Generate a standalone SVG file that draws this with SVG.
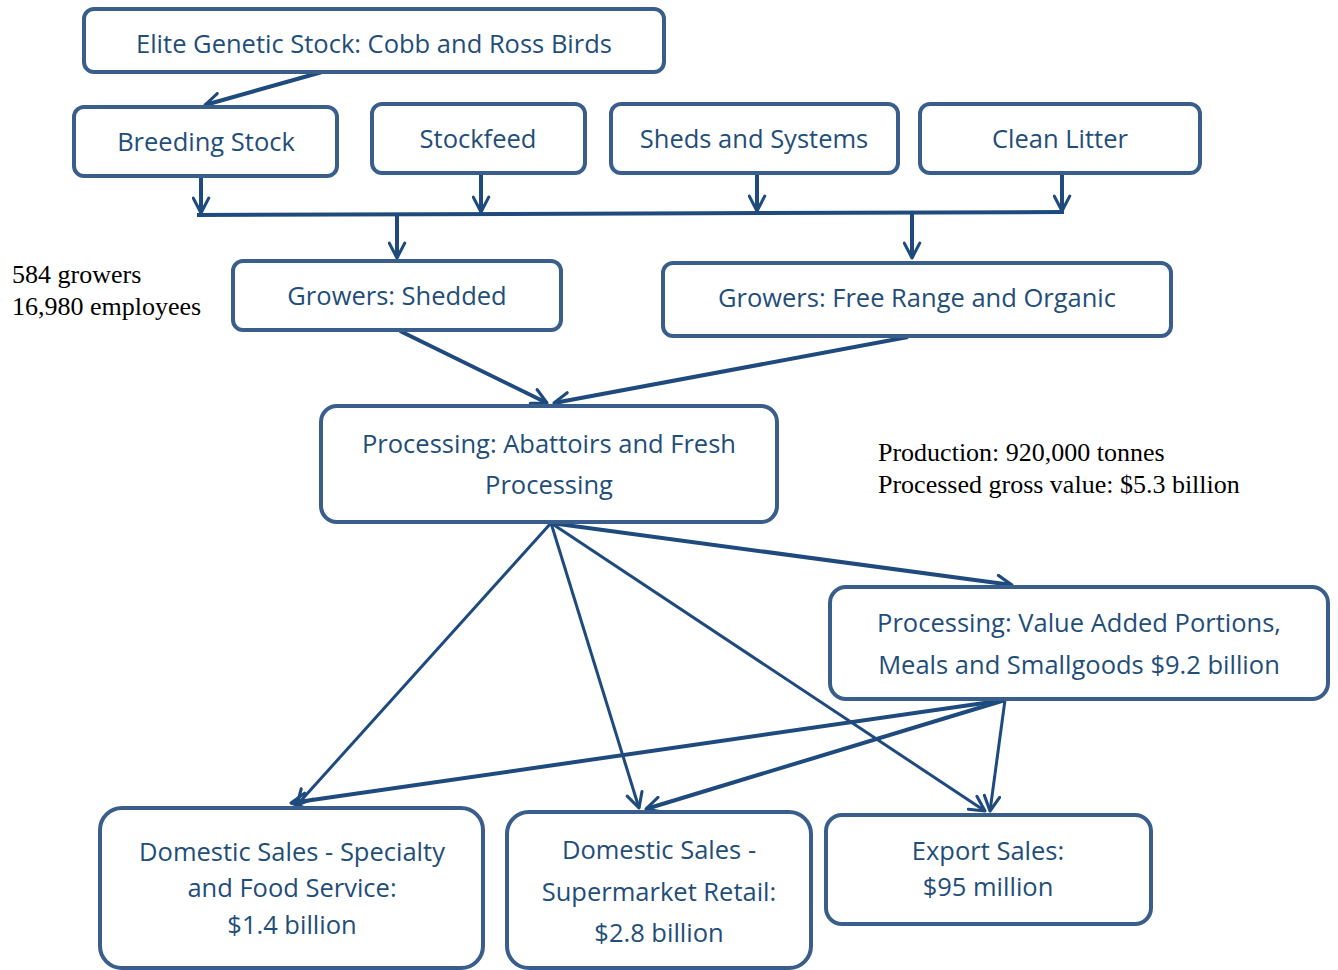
<svg xmlns="http://www.w3.org/2000/svg" width="1338" height="970" viewBox="0 0 1338 970">
<defs>
<style>
.box{fill:#fff;stroke:#3a5e8c;stroke-width:4}
.t{font-family:"Open Sans","Noto Sans",sans-serif;font-size:25.5px;fill:#1f4e79;text-anchor:middle}
.n{font-family:"Liberation Serif","Times New Roman",serif;font-size:26px;fill:#000}
.c{stroke:#1f4a7d;stroke-width:4;fill:none}
.c3{stroke:#1f4a7d;stroke-width:3;fill:none}
</style>
<marker id="ah" viewBox="0 0 16 16" refX="14" refY="8" markerWidth="19" markerHeight="19" markerUnits="userSpaceOnUse" orient="auto">
<path d="M1.5,1.5 L14,8 L1.5,14.5" fill="none" stroke="#1f4a7d" stroke-width="2.6" stroke-linecap="round" stroke-linejoin="round"/>
</marker>
</defs>
<rect width="1338" height="970" fill="#fff"/>
<g id="connectors">
<line class="c" x1="322" y1="72" x2="205" y2="105" marker-end="url(#ah)"/>
<line class="c" x1="201" y1="177" x2="201" y2="213" marker-end="url(#ah)"/>
<line class="c" x1="481" y1="174" x2="481" y2="212" marker-end="url(#ah)"/>
<line class="c" x1="757" y1="174" x2="757" y2="211" marker-end="url(#ah)"/>
<line class="c" x1="1062" y1="174" x2="1062" y2="211" marker-end="url(#ah)"/>
<line class="c" x1="197" y1="215" x2="1064" y2="212"/>
<line class="c" x1="397" y1="214" x2="397" y2="258" marker-end="url(#ah)"/>
<line class="c" x1="912" y1="213" x2="912" y2="258" marker-end="url(#ah)"/>
<line class="c" x1="400" y1="331" x2="547" y2="403" marker-end="url(#ah)"/>
<line class="c" x1="908" y1="337" x2="554" y2="403" marker-end="url(#ah)"/>
<line class="c" x1="551" y1="523" x2="1012" y2="585" marker-end="url(#ah)"/>
<line class="c3" x1="551" y1="523" x2="297" y2="805" marker-end="url(#ah)"/>
<line class="c3" x1="551" y1="523" x2="639" y2="808" marker-end="url(#ah)"/>
<line class="c3" x1="551" y1="523" x2="985" y2="811" marker-end="url(#ah)"/>
<line class="c" x1="1005" y1="700" x2="291" y2="803" marker-end="url(#ah)"/>
<line class="c" x1="1005" y1="700" x2="646" y2="809" marker-end="url(#ah)"/>
<line class="c3" x1="1005" y1="700" x2="990" y2="811" marker-end="url(#ah)"/>
</g>
<g id="elite"><rect class="box" x="84" y="9" width="580" height="63" rx="10"/><text class="t" x="374" y="53">Elite Genetic Stock: Cobb and Ross Birds</text></g>
<g id="breeding"><rect class="box" x="74" y="107" width="263" height="69" rx="10"/><text class="t" x="206" y="151">Breeding Stock</text></g>
<g id="stockfeed"><rect class="box" x="372" y="104" width="213" height="69" rx="10"/><text class="t" x="478" y="148">Stockfeed</text></g>
<g id="sheds"><rect class="box" x="611" y="104" width="287" height="69" rx="10"/><text class="t" x="754" y="148">Sheds and Systems</text></g>
<g id="litter"><rect class="box" x="920" y="104" width="280" height="69" rx="10"/><text class="t" x="1060" y="148">Clean Litter</text></g>
<g id="shedded"><rect class="box" x="233" y="261" width="328" height="69" rx="10"/><text class="t" x="397" y="305">Growers: Shedded</text></g>
<g id="freerange"><rect class="box" x="663" y="263" width="508" height="73" rx="10"/><text class="t" x="917" y="307">Growers: Free Range and Organic</text></g>
<g id="abattoirs"><rect class="box" x="321" y="406" width="456" height="116" rx="16"/><text class="t" x="549" y="453">Processing: Abattoirs and Fresh</text><text class="t" x="549" y="494">Processing</text></g>
<g id="valueadded"><rect class="box" x="830" y="587" width="498" height="112" rx="16"/><text class="t" x="1079" y="632">Processing: Value Added Portions,</text><text class="t" x="1079" y="674">Meals and Smallgoods $9.2 billion</text></g>
<g id="specialty"><rect class="box" x="100" y="808" width="383" height="160" rx="22"/><text class="t" x="292" y="861">Domestic Sales - Specialty</text><text class="t" x="292" y="897">and Food Service:</text><text class="t" x="292" y="934">$1.4 billion</text></g>
<g id="supermarket"><rect class="box" x="507" y="812" width="304" height="156" rx="22"/><text class="t" x="659" y="859">Domestic Sales -</text><text class="t" x="659" y="901">Supermarket Retail:</text><text class="t" x="659" y="942">$2.8 billion</text></g>
<g id="export"><rect class="box" x="826" y="815" width="325" height="109" rx="16"/><text class="t" x="988" y="860">Export Sales:</text><text class="t" x="988" y="896">$95 million</text></g>
<g id="notes">
<text class="n" x="12" y="283" font-size="26.5">584 growers</text>
<text class="n" x="12" y="315" font-size="26.5">16,980 employees</text>
<text class="n" x="878" y="461">Production: 920,000 tonnes</text>
<text class="n" x="878" y="493">Processed gross value: $5.3 billion</text>
</g>
</svg>
